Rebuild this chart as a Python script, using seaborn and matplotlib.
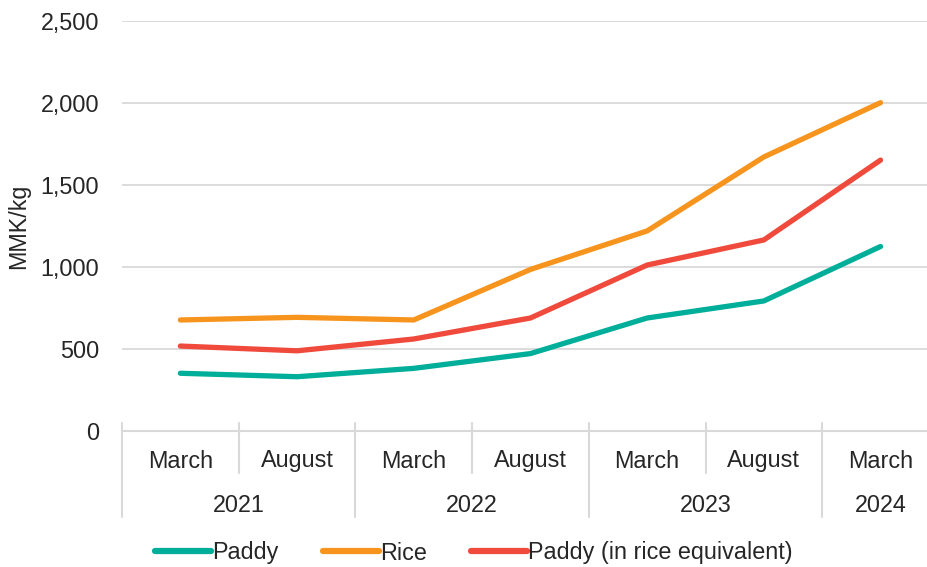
import numpy as np
import pandas as pd
import matplotlib
matplotlib.use("Agg")
import matplotlib.pyplot as plt
import seaborn as sns

# ==================== DATA ====================
MONTHS = ["March", "August", "March", "August", "March", "August", "March"]
YEARS = ["2021", "2022", "2023", "2024"]
YEAR_SPANS = [2, 2, 2, 1]   # number of periods under each year
paddy = [352, 331, 382, 472, 689, 793, 1125]
rice = [677, 693, 677, 985, 1220, 1671, 2002]
paddy_rice_eq = [518, 489, 561, 689, 1012, 1165, 1652]
SERIES = ["Paddy", "Rice", "Paddy (in rice equivalent)"]
COLORS = ["#00AE9A", "#F7941D", "#EF4A3C"]

df = pd.DataFrame({
    "period": list(range(len(MONTHS))) * 3,
    "value": paddy + rice + paddy_rice_eq,
    "series": [s for s in SERIES for _ in MONTHS],
})

# ==================== STYLE ====================
sns.set_style("white")
plt.rcParams["font.family"] = ["Liberation Sans", "DejaVu Sans"]
FS = 16.8
GRID = "#D9D9D9"

W, H = 928, 567
fig = plt.figure(figsize=(W / 100, H / 100), dpi=100)
ax_l, ax_top, ax_bot, ax_r = 122, 21, 431, 928
ax = fig.add_axes([ax_l / W, 1 - ax_bot / H, (ax_r - ax_l) / W, (ax_bot - ax_top) / H])
ax_h = ax_bot - ax_top

sns.lineplot(data=df, x="period", y="value", hue="series", hue_order=SERIES,
             palette=COLORS, linewidth=3.8, ax=ax, legend=True)
for line in ax.get_lines():
    line.set_solid_capstyle("round")
    line.set_solid_joinstyle("round")

cat_w = 116.7  # px per category
ax.set_xlim(-0.5, -0.5 + (ax_r - ax_l) / cat_w)
ax.set_ylim(0, 2500)
ax.set_yticks(np.arange(0, 2501, 500))
ax.set_yticklabels([f"{v:,}" for v in range(0, 2501, 500)], fontsize=FS)
ax.tick_params(axis="y", length=0, pad=16.5)
ax.set_xticks([])
ax.set_xlabel("")
ax.set_ylabel("MMK/kg", fontsize=FS)
ax.yaxis.set_label_coords((30 - ax_l) / (ax_r - ax_l), 0.5)

for v in range(500, 2501, 500):
    ax.axhline(v, color=GRID, lw=1.3, zorder=0)
for s in ["top", "right", "left"]:
    ax.spines[s].set_visible(False)
ax.spines["bottom"].set_color(GRID)
ax.spines["bottom"].set_linewidth(1.5)

# ==================== MULTI-LEVEL X AXIS ====================
tr = ax.get_xaxis_transform()
px = lambda p: p / ax_h
for i, m in enumerate(MONTHS):
    ax.text(i, px(-30), m, transform=tr, ha="center", va="center", fontsize=FS)
start = 0
for y, span in zip(YEARS, YEAR_SPANS):
    ax.text(start + (span - 1) / 2, px(-74), y, transform=tr, ha="center", va="center", fontsize=FS)
    ax.plot([start - 0.5] * 2, [px(8), px(-86)], transform=tr, color=GRID, lw=1.5, clip_on=False)
    for k in range(1, span):
        ax.plot([start + k - 0.5] * 2, [px(8), px(-42)], transform=tr, color=GRID, lw=1.5, clip_on=False)
    start += span
ax.plot([start - 0.5] * 2, [px(8), px(-86)], transform=tr, color=GRID, lw=1.5, clip_on=False)

# ==================== LEGEND ====================
handles, labels = ax.get_legend_handles_labels()
ax.legend(handles, labels, loc="center", bbox_to_anchor=(474 / W, 1 - 553 / H),
          bbox_transform=fig.transFigure, ncol=3, frameon=False, fontsize=FS,
          handlelength=2.4, handletextpad=0.05, columnspacing=1.9)
for h in ax.get_legend().get_lines():
    h.set_linewidth(4.5)
    h.set_solid_capstyle("round")

fig.savefig("out.png", dpi=100)
